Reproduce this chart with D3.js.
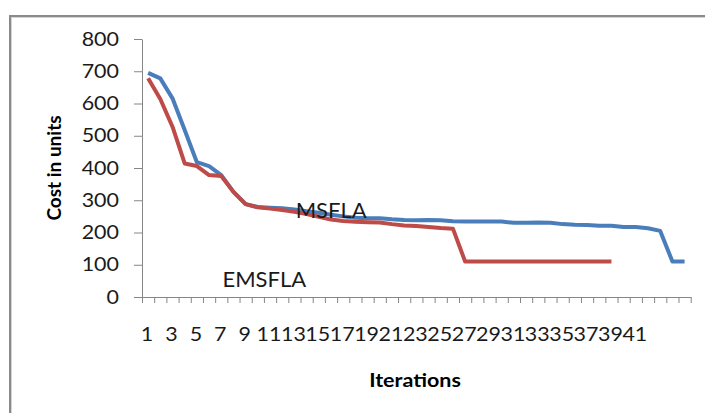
<!DOCTYPE html>
<html>
<head>
<meta charset="utf-8">
<script src="https://cdn.jsdelivr.net/npm/d3@7"></script>
<style>
  body { margin: 0; background: #fff; }
  svg { display: block; }
</style>
</head>
<body>
<div id="drawing"></div>
<script>
// iterations 1..45, labels shown on odd iterations up to 41
const iterations = d3.range(1, 46);
const labelTicks = d3.range(1, 42, 2);
const yTicks = d3.range(0, 801, 100);

// cost per iteration
const msfla = [695, 678, 616, 518, 418, 406, 378, 326, 288, 279, 277, 275, 271, 266, 261,
  255, 250, 246, 244, 244, 241, 239, 238, 239, 238, 235, 234, 234, 234, 234,
  230, 230, 231, 230, 226, 224, 223, 221, 221, 217, 217, 213, 205, 110, 110];
const emsfla = [678, 614, 528, 414, 406, 378, 375, 326, 288, 278, 274, 270, 264, 257, 249,
  240, 236, 233, 232, 231, 226, 222, 220, 217, 214, 212, 110, 110, 110, 110,
  110, 110, 110, 110, 110, 110, 110, 110, 110];

const width = 705;
const height = 413;
const plot = {left: 142, right: 690.7, top: 39, bottom: 297};
const axisColor = "#868686";
const font = "Lato, 'Open Sans', sans-serif";
// the source picture is a bit stretched sideways
const stretch = 1.13;

const svg = d3.select("#drawing").append("svg")
  .attr("width", width)
  .attr("height", height);

// chart frame
svg.append("rect")
  .attr("x", 10).attr("y", 16)
  .attr("width", width + 20).attr("height", height + 20)
  .style("fill", "none")
  .style("stroke", "#8a8a8a")
  .style("stroke-width", 2);
svg.append("rect")
  .attr("x", 11.5).attr("y", 17.5)
  .attr("width", width + 20).attr("height", height + 20)
  .style("fill", "none")
  .style("stroke", "#d4d4d4")
  .style("stroke-width", 1);

// category positions: point i sits at the middle of its slot
const x = d3.scaleLinear()
  .domain([0.5, iterations.length + 0.5])
  .range([plot.left, plot.right]);
const y = d3.scaleLinear()
  .domain([0, 800])
  .range([plot.bottom, plot.top]);

// y axis
const yAxis = svg.append("g")
  .attr("transform", `translate(${plot.left},0)`)
  .call(d3.axisLeft(y).tickValues(yTicks).tickSize(8).tickPadding(15).tickSizeOuter(0));
yAxis.select(".domain").style("stroke", axisColor);
yAxis.selectAll(".tick line").style("stroke", axisColor);
yAxis.selectAll("text")
  .attr("x", 0)
  .attr("transform", `translate(-23,0) scale(${stretch},1)`)
  .style("font-family", font)
  .style("font-size", "19px")
  .style("fill", "#1a1a1a");

// x axis tick marks at slot boundaries
const xAxis = svg.append("g")
  .attr("transform", `translate(0,${plot.bottom})`)
  .call(d3.axisBottom(x)
    .tickValues(d3.range(0, iterations.length + 1).map(d => d + 0.5))
    .tickFormat("")
    .tickSize(6)
    .tickSizeOuter(0));
xAxis.select(".domain").style("stroke", axisColor);
xAxis.selectAll(".tick line").style("stroke", axisColor);

// x labels
const xLabels = svg.append("g")
  .attr("transform", `translate(0,${plot.bottom})`)
  .call(d3.axisBottom(x).tickValues(labelTicks).tickFormat(d3.format("d")).tickSize(0));
xLabels.select(".domain").remove();
xLabels.selectAll("text")
  .attr("y", 0)
  .attr("dy", null)
  .attr("transform", `translate(-1.5,44) scale(${stretch},1)`)
  .style("font-family", font)
  .style("font-size", "19px")
  .style("fill", "#1a1a1a");

// lines
const line = d3.line()
  .x((d, i) => x(i + 1))
  .y(d => y(d));

svg.append("path")
  .datum(msfla)
  .attr("d", line)
  .style("fill", "none")
  .style("stroke", "#4a7ebb")
  .style("stroke-width", 4)
  .style("stroke-linejoin", "round");

svg.append("path")
  .datum(emsfla)
  .attr("d", line)
  .style("fill", "none")
  .style("stroke", "#be4b48")
  .style("stroke-width", 4)
  .style("stroke-linejoin", "round");

// series names
svg.append("text")
  .attr("x", x(13.1)).attr("y", y(246))
  .text("MSFLA")
  .style("font-family", font)
  .style("font-size", "22px")
  .style("fill", "#1a1a1a");
svg.append("text")
  .attr("x", x(7.1)).attr("y", y(30))
  .text("EMSFLA")
  .style("font-family", font)
  .style("font-size", "22px")
  .style("fill", "#1a1a1a");

// axis titles
svg.append("text")
  .attr("transform", `translate(61,168) rotate(-90)`)
  .attr("text-anchor", "middle")
  .text("Cost in units")
  .style("font-family", font)
  .style("font-size", "19px")
  .style("font-weight", "bold")
  .style("fill", "#000");

svg.append("text")
  .attr("transform", `translate(415,387) scale(${stretch},1)`)
  .attr("text-anchor", "middle")
  .text("Iterations")
  .style("font-family", font)
  .style("font-size", "19px")
  .style("font-weight", "bold")
  .style("fill", "#000");
</script>
</body>
</html>
